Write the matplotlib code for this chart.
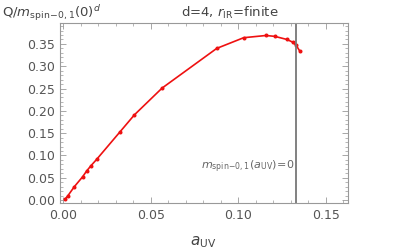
import matplotlib
matplotlib.use("Agg")
import matplotlib.pyplot as plt
from matplotlib.ticker import MultipleLocator

a_uv = [0.001, 0.0025, 0.0063, 0.011, 0.0133, 0.0158, 0.019, 0.0324, 0.0406,
        0.0564, 0.0876, 0.103, 0.1158, 0.1208, 0.1278, 0.131, 0.133, 0.1349]
q_vals = [0.002, 0.009, 0.030, 0.052, 0.065, 0.077, 0.091, 0.153, 0.191,
          0.251, 0.340, 0.364, 0.369, 0.367, 0.360, 0.354, 0.347, 0.335]
a_crit = 0.1327
xticks = [0.00, 0.05, 0.10, 0.15]
yticks = [0.00, 0.05, 0.10, 0.15, 0.20, 0.25, 0.30, 0.35]

W, H = 407, 252
fig = plt.figure(figsize=(W/100, H/100), dpi=100)
ax = fig.add_axes([60/W, 1-203/H, 288/W, 180/H])

ax.plot(a_uv, q_vals, color='#ee1111', lw=1.2, marker='o', ms=1.9)
ax.axvline(a_crit, color='#777777', lw=1.3)

ax.set_xlim(-0.0019, 0.1626)
ax.set_ylim(-0.0067, 0.397)
ax.set_xticks(xticks)
ax.set_yticks(yticks)
ax.set_xticklabels([f"{v:.2f}" for v in xticks])
ax.set_yticklabels([f"{v:.2f}" for v in yticks])
ax.xaxis.set_minor_locator(MultipleLocator(0.01))
ax.yaxis.set_minor_locator(MultipleLocator(0.01))
ax.tick_params(which='both', direction='in', top=True, right=True,
               color='#999999', labelcolor='#555555', labelsize=9)
ax.tick_params(which='major', length=4, width=0.6)
ax.tick_params(which='minor', length=2, width=0.5)
ax.tick_params(axis='x', pad=4)
for s in ax.spines.values():
    s.set_color('#999999')
    s.set_linewidth(0.8)

ax.text(a_crit - 0.001, 0.074, r"$m_{\rm spin\!-\!0,1}(a_{\rm UV})\!=\!0$",
        color='#666666', fontsize=8, ha='right', va='center')

fig.text(2/W, 1-13/H, r"Q/$m_{\rm spin\!-\!0,1}(0)^d$", color='#444444',
         fontsize=9.5, ha='left', va='center')
fig.text(230/W, 1-13/H, r"d=4, $r_{\rm IR}$=finite", color='#444444',
         fontsize=9.5, ha='center', va='center')
fig.text(203/W, 1-242/H, r"$a_{\rm UV}$", color='#444444',
         fontsize=11, ha='center', va='center')

fig.savefig("out.png", dpi=100)
